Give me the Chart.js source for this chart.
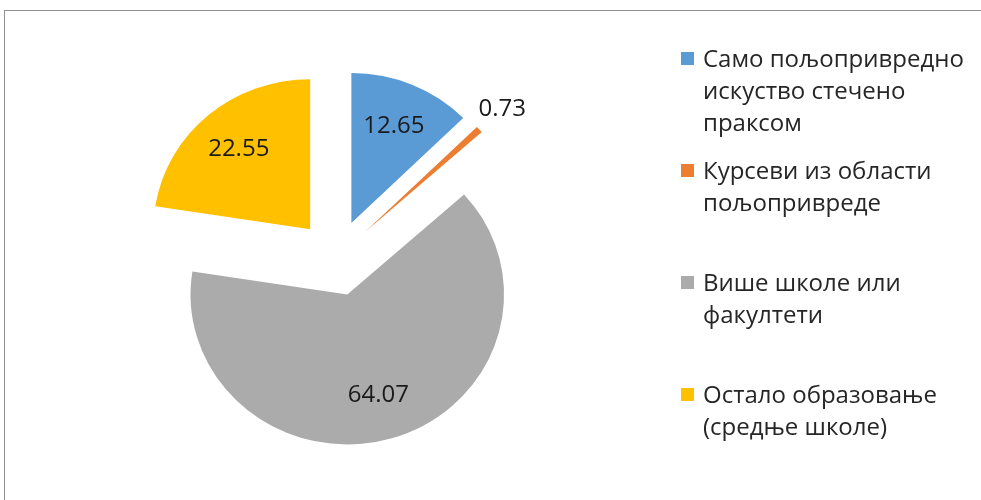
<!DOCTYPE html>
<html>
<head>
<meta charset="utf-8">
<script src="https://cdn.jsdelivr.net/npm/chart.js@4.4.1/dist/chart.umd.min.js"></script>
<style>
	html, body { margin: 0; padding: 0; background: #fff; overflow: hidden; }
	body { width: 981px; height: 500px; position: relative; }
	#frame { position: absolute; left: 4px; top: 10px; width: 1100px; height: 600px; border: 1px solid #8e8e8e; }
	#pie { position: absolute; left: 0; top: 0; }
	#legend { position: absolute; left: 681px; top: 42px; font-family: "Open Sans", sans-serif; font-size: 24px; line-height: 32px; color: #262626; }
	.item { position: relative; height: 112px; padding-left: 22px; white-space: nowrap; }
	.box { position: absolute; left: 0; top: 10px; width: 13px; height: 13px; }
</style>
</head>
<body>
<div id="frame"></div>
<canvas id="pie" width="981" height="500"></canvas>
<div id="legend"></div>
<script>
// data
var categories = [
	["Само пољопривредно", "искуство стечено", "праксом"],
	["Курсеви из области", "пољопривреде"],
	["Више школе или", "факултети"],
	["Остало образовање", "(средње школе)"]
];
var shares = [12.65, 0.73, 64.07, 22.55];
var sliceColors = ["#5B9BD5", "#ED7D31", "#ABABAB", "#FFC000"];

var explode = 38;
var stretchX = 1.045; // the original pie is a little wider than tall

// every slice pulled out from the centre, like the excel exploded pie
var explodePlugin = {
	id: "explode",
	beforeDatasetDraw: function (chart, args) {
		var ctx = chart.ctx;
		args.meta.data.forEach(function (arc) {
			var mid = (arc.startAngle + arc.endAngle) / 2;
			ctx.save();
			ctx.translate(arc.x, arc.y);
			ctx.scale(stretchX, 1);
			ctx.translate(-arc.x, -arc.y);
			ctx.translate(Math.cos(mid) * explode, Math.sin(mid) * explode);
			arc.draw(ctx);
			ctx.restore();
		});
		return false;
	}
};

// value labels, tiny slices get theirs outside
var valueLabels = {
	id: "valueLabels",
	afterDatasetsDraw: function (chart) {
		var ctx = chart.ctx;
		var meta = chart.getDatasetMeta(0);
		ctx.save();
		ctx.font = "24px 'Open Sans'";
		ctx.fillStyle = "#1a1a1a";
		ctx.textAlign = "center";
		ctx.textBaseline = "middle";
		meta.data.forEach(function (arc, i) {
			var mid = (arc.startAngle + arc.endAngle) / 2;
			var d = explode + (shares[i] < 5 ? arc.outerRadius + 30 : arc.outerRadius * 0.7);
			ctx.fillText(shares[i].toFixed(2), arc.x + Math.cos(mid) * d * stretchX, arc.y + Math.sin(mid) * d);
		});
		ctx.restore();
	}
};

var ctx = document.getElementById("pie");

var chart = new Chart(ctx, {
	type: "pie",
	data: {
		labels: categories,
		datasets: [{
			data: shares,
			backgroundColor: sliceColors,
			borderWidth: 0,
			radius: 150
		}]
	},
	options: {
		responsive: false,
		animation: false,
		events: [],
		layout: { padding: { left: 100, right: 409, top: 40, bottom: 24 } },
		plugins: {
			legend: { display: false },
			tooltip: { enabled: false }
		}
	},
	plugins: [explodePlugin, valueLabels]
});

// html legend
var legend = document.getElementById("legend");
categories.forEach(function (lines, i) {
	var item = document.createElement("div");
	item.className = "item";
	var box = document.createElement("span");
	box.className = "box";
	box.style.background = sliceColors[i];
	item.appendChild(box);
	lines.forEach(function (line) {
		var row = document.createElement("div");
		row.textContent = line;
		item.appendChild(row);
	});
	legend.appendChild(item);
});
</script>
</body>
</html>
